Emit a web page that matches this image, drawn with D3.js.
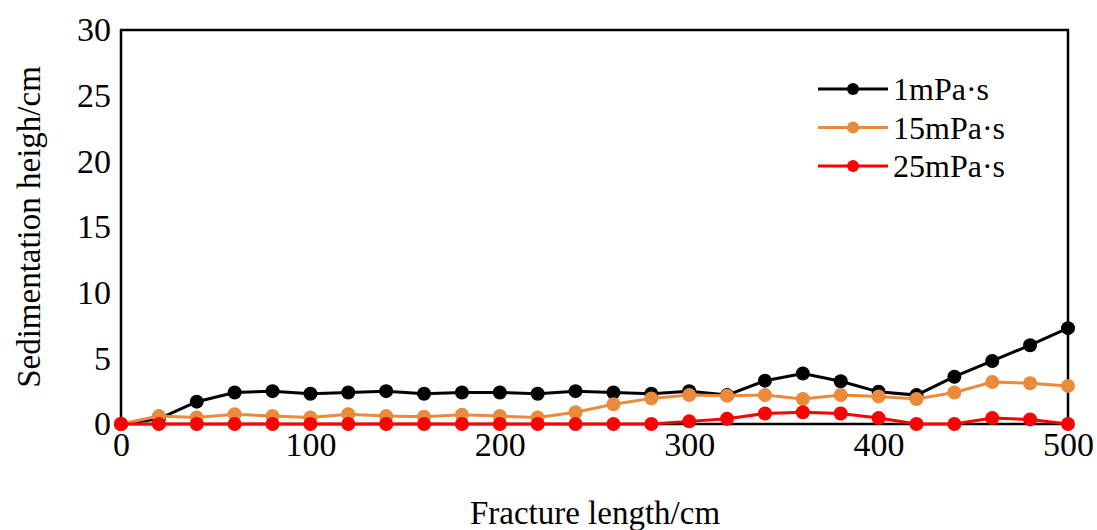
<!DOCTYPE html>
<html>
<head>
<meta charset="utf-8">
<script src="https://cdn.jsdelivr.net/npm/d3@7"></script>
<style>
  body { margin: 0; background: #fff; }
  svg text { font-family: 'Times New Roman', 'Liberation Serif', Times, 'DejaVu Serif', serif !important; fill: #000; }
</style>
</head>
<body>
<script>
var serif = "'Times New Roman', 'Liberation Serif', serif";

// fracture length positions (cm)
var lengths = [0,20,40,60,80,100,120,140,160,180,200,220,240,260,280,300,320,340,360,380,400,420,440,460,480,500];

// sedimentation height (cm) per viscosity
var visc1 = [0,0.4,1.7,2.4,2.5,2.3,2.4,2.5,2.3,2.4,2.4,2.3,2.5,2.4,2.3,2.5,2.2,3.3,3.85,3.25,2.45,2.2,3.6,4.8,6.0,7.3];
var visc15 = [0,0.6,0.5,0.75,0.6,0.5,0.75,0.6,0.55,0.7,0.6,0.5,0.9,1.5,1.95,2.2,2.15,2.2,1.9,2.2,2.1,1.9,2.4,3.2,3.1,2.9];
var visc25 = [0,0,0,0,0,0,0,0,0,0,0,0,0,0,0,0.2,0.4,0.8,0.9,0.8,0.45,0,0,0.45,0.35,0];

var seriesNames = ['1mPa·s', '15mPa·s', '25mPa·s'];
var seriesColors = ['#000000', '#ea8a3c', '#ff0000'];
var xTicks = [0,100,200,300,400,500];
var yTicks = [0,5,10,15,20,25,30];

var W = 1097, H = 530;
var svg = d3.select('body').append('svg').attr('width', W).attr('height', H)
  .attr('font-family', serif);

var x = d3.scaleLinear().domain([0, 500]).range([121, 1068]);
var y = d3.scaleLinear().domain([0, 30]).range([424, 30]);

// frame
svg.append('rect')
  .attr('x', x(0)).attr('y', y(30))
  .attr('width', x(500) - x(0)).attr('height', y(0) - y(30))
  .attr('fill', 'none').attr('stroke', '#000').attr('stroke-width', 2.5);

// axes - labels only, no tick marks
var xAxis = svg.append('g').attr('transform', 'translate(0,' + y(0) + ')')
  .call(d3.axisBottom(x).tickValues(xTicks).tickSize(0).tickPadding(8));
xAxis.select('.domain').remove();
xAxis.attr('font-family', serif);
xAxis.selectAll('text').style('font-size', '34px');

var yAxis = svg.append('g').attr('transform', 'translate(' + x(0) + ',0)')
  .call(d3.axisLeft(y).tickValues(yTicks).tickSize(0).tickPadding(10));
yAxis.select('.domain').remove();
yAxis.attr('font-family', serif);
yAxis.selectAll('text').style('font-size', '34px');

svg.append('text').attr('x', 595).attr('y', 524).attr('text-anchor', 'middle')
  .attr('font-family', serif).style('font-size', '33px').text('Fracture length/cm');

svg.append('text').attr('transform', 'translate(40,227) rotate(-90)').attr('text-anchor', 'middle')
  .attr('font-family', serif).style('font-size', '33px').text('Sedimentation heigh/cm');

var allSeries = [visc1, visc15, visc25];
var line = d3.line().x(function(d, i){ return x(lengths[i]); }).y(function(d){ return y(d); });

allSeries.forEach(function(vals, k){
  var g = svg.append('g');
  g.append('path').datum(vals).attr('d', line)
    .attr('fill', 'none').attr('stroke', seriesColors[k]).attr('stroke-width', 3);
  g.selectAll('circle').data(vals).enter().append('circle')
    .attr('cx', function(d, i){ return x(lengths[i]); })
    .attr('cy', function(d){ return y(d); })
    .attr('r', 7)
    .attr('fill', seriesColors[k]);
});

// legend
var legend = svg.append('g');
seriesNames.forEach(function(name, k){
  var ly = 89 + k * 38.5;
  legend.append('line').attr('x1', 818).attr('x2', 888).attr('y1', ly).attr('y2', ly)
    .attr('stroke', seriesColors[k]).attr('stroke-width', 3);
  legend.append('circle').attr('cx', 853).attr('cy', ly).attr('r', 6).attr('fill', seriesColors[k]);
  legend.append('text').attr('x', 893).attr('y', ly + 11).style('font-size', '32px').text(name);
});
</script>
</body>
</html>
